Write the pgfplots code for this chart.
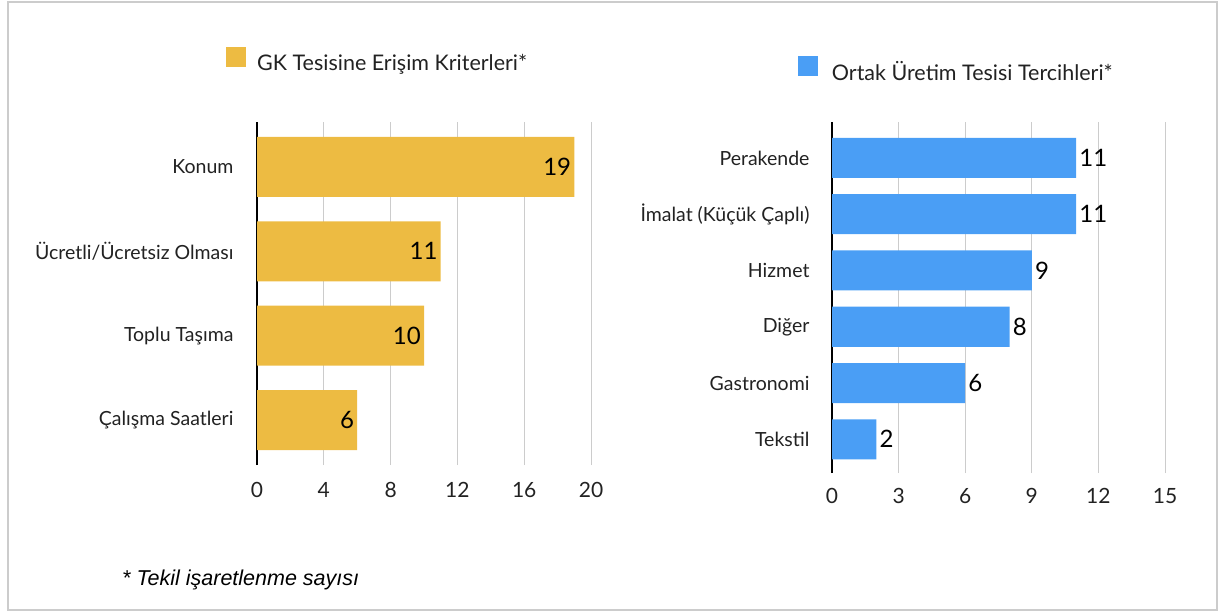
\documentclass[border=0pt]{standalone}
\usepackage{fontspec}
\setmainfont{Lato}
\newfontfamily\helv{Liberation Sans}
\usepackage{pgfplots}
\pgfplotsset{compat=1.18}
\definecolor{gkyellow}{HTML}{EDBB42}
\definecolor{otblue}{HTML}{4A9EF5}
\definecolor{gridgray}{HTML}{CCCCCC}
\definecolor{txt}{HTML}{222222}
\pgfplotsset{
 mybar/.style={
  scale only axis, xbar, axis line style={draw=none},
  major tick length=0pt, xmajorgrids, grid style={gridgray, line width=0.8pt},
  extra x ticks={0}, extra x tick style={grid style={black,line width=1.8pt}},
  yticklabel style={font=\fontsize{19.5}{21}\selectfont, text=txt},
  xticklabel style={font=\fontsize{21}{22}\selectfont, text=txt},
  /pgf/number format/assume math mode=true,
  legend style={draw=none, fill=none, inner sep=0pt, font=\fontsize{21.5}{24}\selectfont, text=txt,
    nodes={inner sep=5pt}, /tikz/every odd column/.append style={column sep=6pt}},
  legend image code/.code={\fill[##1] (0pt,-4pt) rectangle (20pt,16pt);},
  nodes near coords, every node near coord/.append style={font=\fontsize{24}{26}\selectfont, text=black, inner sep=3pt},
  clip=false,
 }
}
\begin{document}
\begin{tikzpicture}
\path[use as bounding box] (0pt,0pt) rectangle (1219pt,-612pt);
\draw[gridgray, line width=1.2pt] (8pt,-2pt) rectangle (1217pt,-610pt);
\begin{axis}[mybar,
  at={(257pt,-465pt)}, anchor=south west,
  width=334pt, height=343pt,
  xmin=0, xmax=20, xtick={4,8,...,20},
  ymin=-0.53, ymax=3.53, ytick={0,1,2,3},
  yticklabels={Çalışma Saatleri, Toplu Taşıma, Ücretli/Ücretsiz Olması, Konum},
  yticklabel style={xshift=-20pt},
  xticklabel style={yshift=-14pt},
  bar width=60pt,
  every node near coord/.append style={anchor=east},
  legend style={at={(-0.093,1.218)}, anchor=north west},
]
\addplot[fill=gkyellow, draw=none] coordinates {(6,0) (10,1) (11,2) (19,3)};
\addlegendentry{GK Tesisine Erişim Kriterleri*}
\end{axis}
\begin{axis}[mybar,
  at={(832pt,-473pt)}, anchor=south west,
  width=333pt, height=351pt,
  xmin=0, xmax=15, xtick={3,6,...,15},
  ymin=-0.6, ymax=5.64, ytick={0,1,2,3,4,5},
  yticklabels={Tekstil, Gastronomi, Diğer, Hizmet, İmalat (Küçük Çaplı), Perakende},
  yticklabel style={xshift=-19pt},
  xticklabel style={yshift=-12pt},
  bar width=40pt,
  every node near coord/.append style={anchor=west},
  legend style={at={(-0.103,1.19)}, anchor=north west, /tikz/every odd column/.append style={column sep=9pt}},
]
\addplot[fill=otblue, draw=none] coordinates {(2,0) (6,1) (8,2) (9,3) (11,4) (11,5)};
\addlegendentry{Ortak Üretim Tesisi Tercihleri*}
\end{axis}
\node[anchor=west, font=\helv\itshape\fontsize{21.5}{24}\selectfont, text=black, inner sep=0pt] at (122pt,-580pt) {* Tekil işaretlenme sayısı};
\end{tikzpicture}
\end{document}
